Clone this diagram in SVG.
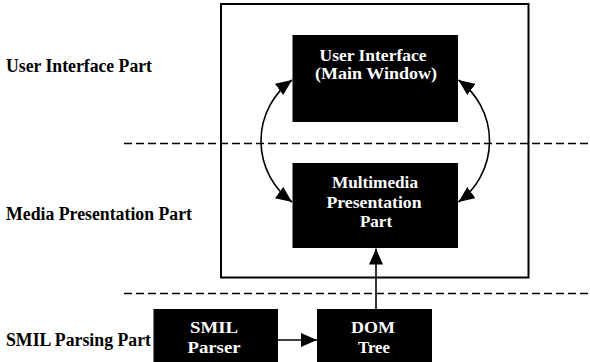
<svg xmlns="http://www.w3.org/2000/svg" width="590" height="362" viewBox="0 0 590 362">
<style>
.lbl{font-family:"Liberation Serif","Times New Roman",serif;font-weight:bold;font-size:18px;fill:#000}
.box{fill:#000}
.bt{font-family:"Liberation Serif","Times New Roman",serif;font-weight:bold;font-size:17px;fill:#fff;text-anchor:middle}
.dash{stroke:#000;stroke-width:1.5;stroke-dasharray:8,4;fill:none}
.conn{stroke:#000;stroke-width:1.6;fill:none}
</style>
<defs>
<marker id="ah" viewBox="0 0 16 14" refX="16" refY="7" markerWidth="16" markerHeight="14" markerUnits="userSpaceOnUse" orient="auto-start-reverse">
<path d="M0,0 L16,7 L0,14 z" fill="#000"/>
</marker>
</defs>
<rect width="590" height="362" fill="#fff"/>
<g id="frame">
<rect x="221" y="4" width="307.5" height="273.5" fill="none" stroke="#000" stroke-width="2"/>
<line class="dash" x1="124" y1="143.5" x2="590" y2="143.5"/>
<line class="dash" x1="124" y1="293.5" x2="590" y2="293.5"/>
</g>
<g id="labels">
<text class="lbl" x="6" y="72" textLength="146" lengthAdjust="spacingAndGlyphs">User Interface Part</text>
<text class="lbl" x="6" y="220" textLength="186" lengthAdjust="spacingAndGlyphs">Media Presentation Part</text>
<text class="lbl" x="6" y="346" textLength="145" lengthAdjust="spacingAndGlyphs">SMIL Parsing Part</text>
</g>
<g id="ui">
<rect class="box" x="292.5" y="35" width="165.5" height="87"/>
<text class="bt" x="373" y="61" textLength="107" lengthAdjust="spacingAndGlyphs">User Interface</text>
<text class="bt" x="376" y="79" textLength="122" lengthAdjust="spacingAndGlyphs">(Main Window)</text>
</g>
<g id="mmp">
<rect class="box" x="292.5" y="163" width="165.5" height="85"/>
<text class="bt" x="375" y="188" textLength="86" lengthAdjust="spacingAndGlyphs">Multimedia</text>
<text class="bt" x="374" y="208" textLength="95" lengthAdjust="spacingAndGlyphs">Presentation</text>
<text class="bt" x="376" y="227">Part</text>
</g>
<g id="smil">
<rect class="box" x="153.5" y="309" width="124.5" height="53"/>
<text class="bt" x="214" y="333" textLength="48" lengthAdjust="spacingAndGlyphs">SMIL</text>
<text class="bt" x="214" y="353" textLength="53" lengthAdjust="spacingAndGlyphs">Parser</text>
</g>
<g id="dom">
<rect class="box" x="317" y="309" width="115" height="53"/>
<text class="bt" x="373" y="333" textLength="44" lengthAdjust="spacingAndGlyphs">DOM</text>
<text class="bt" x="374" y="353" textLength="32" lengthAdjust="spacingAndGlyphs">Tree</text>
</g>
<g id="connectors">
<path class="conn" d="M292,80 A75.5,75.5 0 0 0 292,202" marker-start="url(#ah)" marker-end="url(#ah)"/>
<path class="conn" d="M458.5,80 A75.5,75.5 0 0 1 458.5,202" marker-start="url(#ah)" marker-end="url(#ah)"/>
<path class="conn" d="M376,309 L376,248.5" marker-end="url(#ah)"/>
<path class="conn" d="M278,340 L317,340" marker-end="url(#ah)"/>
</g>
</svg>
